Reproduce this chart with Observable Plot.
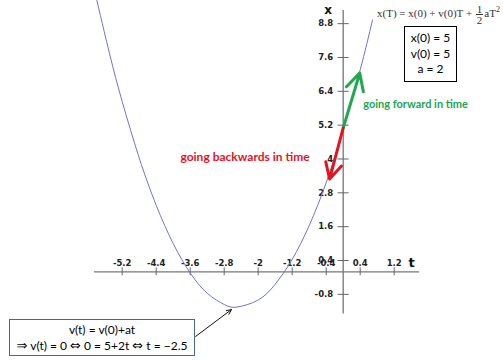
<!DOCTYPE html>
<html>
<head>
<meta charset="utf-8">
<script src="https://cdn.jsdelivr.net/npm/d3@7"></script>
<script src="https://cdn.jsdelivr.net/npm/@observablehq/plot@0.6"></script>
<style>
  html, body { margin: 0; padding: 0; background: #fff; }
  #wrap { position: relative; width: 503px; height: 363px; overflow: hidden; background: #fff; }
  #wrap svg { position: absolute; left: 0; top: 0; }
  .formula { position: absolute; left: 377px; top: 4px; font: 11px "Liberation Serif", serif; color: #333; white-space: nowrap; }
  .frac { display: inline-block; vertical-align: middle; text-align: center; line-height: 10px; margin: 0 1px; }
  .frac span { display: block; }
  .frac .num { border-bottom: 1px solid #333; padding: 0 1px; }
  .params { position: absolute; left: 404px; top: 26px; width: 51px; height: 51px; border: 1px solid #000; font: 12px Lato, sans-serif; color: #000; text-align: center; line-height: 15.5px; padding-top: 3px; box-sizing: content-box; }
  .note { position: absolute; left: 9px; top: 319px; width: 184px; height: 33px; border: 1px solid #46679a; font: 12px Lato, sans-serif; color: #000; text-align: center; line-height: 16px; padding-top: 2px; white-space: nowrap; }
  .sym { font-family: "DejaVu Sans", sans-serif; font-size: 13px; line-height: 12px; }
</style>
</head>
<body>
<div id="wrap">
  <div class="formula">x(T) = x(0) + v(0)T + <span class="frac"><span class="num">1</span><span>2</span></span>aT<sup style="font-size:8px">2</sup></div>
  <div class="params">x(0) = 5<br>v(0) = 5<br>a = 2</div>
  <div class="note">v(t) = v(0)+at<br><span class="sym">⇒</span> v(t) = 0 <span class="sym">⇔</span> 0 = 5+2t <span class="sym">⇔</span> t = −2.5</div>
</div>
<script>
// Curve points (t, x)
const curveT = [-5.85, -5.5, -5.2, -4.8, -4.4, -4.0, -3.6, -3.2, -2.8, -2.5, -2.0, -1.6, -1.2, -0.8, -0.4, 0, 0.4, 0.69];
const curveX = [9.97, 7.75, 6.04, 4.04, 2.36, 1.0, -0.04, -0.76, -1.16, -1.25, -1.0, -0.44, 0.44, 1.64, 3.16, 5.05, 7.16, 8.93];

// Axis ticks
const xTicks = [-5.2, -4.4, -3.6, -2.8, -2, -1.2, -0.4, 0.4, 1.2];
const yTicks = [-0.8, 0.4, 1.6, 2.8, 4, 5.2, 6.4, 7.6, 8.8];

// Arrows (t, x)
const arrowStart = {t: 0, x: 5.1};
const forwardEnd = {t: 0.39, x: 7.05};
const backwardEnd = {t: -0.32, x: 3.29};
const noteArrow = {t1: -3.47, x1: -2.29, t2: -2.63, x2: -1.34};

const curve = curveT.map((t, i) => ({t, x: curveX[i]}));

const tickFont = {fontFamily: "DejaVu Sans", fontWeight: "bold", fontSize: 8.5, fill: "#222"};

const plot = Plot.plot({
  width: 503,
  height: 363,
  margin: 0,
  style: {background: "transparent", overflow: "visible"},
  x: {domain: [-8.0635, 3.7718], axis: null},
  y: {domain: [-3.2518, 9.6206], axis: null},
  marks: [
    // axes lines
    Plot.ruleY([0], {x1: -5.85, x2: 1.8, stroke: "#777", strokeWidth: 1.3}),
    Plot.ruleX([0], {y1: -1.5, y2: 9.27, stroke: "#777", strokeWidth: 1.3}),
    // ticks
    Plot.ruleX(xTicks, {x: d => d, y1: -0.14, y2: 0.14, stroke: "#666", strokeWidth: 1}),
    Plot.ruleY(yTicks, {y: d => d, x1: -0.12, x2: 0.14, stroke: "#666", strokeWidth: 1}),
    // tick labels
    Plot.text(xTicks, {x: d => d, y: 0, dy: -9, text: d => String(d), ...tickFont}),
    Plot.text(yTicks, {x: 0, y: d => d, dx: -10, textAnchor: "end", text: d => String(d), ...tickFont}),
    // axis names
    Plot.text(["x"], {x: 0, y: 9.27, dx: -15, dy: 0, text: d => d, fontFamily: "DejaVu Sans", fontWeight: "bold", fontSize: 12, fill: "#111"}),
    Plot.text(["t"], {x: 1.8, y: 0, dx: -8, dy: -9, text: d => d, fontFamily: "DejaVu Sans", fontWeight: "bold", fontSize: 13, fill: "#111"}),
    // parabola
    Plot.line(curve, {x: "t", y: "x", curve: "natural", stroke: "#7474c4", strokeWidth: 1}),
    // arrows
    Plot.arrow([0], {x1: arrowStart.t, y1: arrowStart.x, x2: forwardEnd.t, y2: forwardEnd.x, stroke: "#22a650", strokeWidth: 3, headLength: 11, headAngle: 55}),
    Plot.arrow([0], {x1: arrowStart.t, y1: arrowStart.x, x2: backwardEnd.t, y2: backwardEnd.x, stroke: "#e5141e", strokeWidth: 3, headLength: 11, headAngle: 55}),
    Plot.arrow([0], {x1: noteArrow.t1, y1: noteArrow.x1, x2: noteArrow.t2, y2: noteArrow.x2, stroke: "#111", strokeWidth: 1, headLength: 8, headAngle: 50}),
    // labels
    Plot.text(["going forward in time"], {x: 0.47, y: 5.93, text: d => d, textAnchor: "start", fontFamily: "Lato", fontWeight: "bold", fontSize: 11, fill: "#22a650"}),
    Plot.text(["going backwards in time"], {x: -0.79, y: 4.05, text: d => d, textAnchor: "end", fontFamily: "Lato", fontWeight: "bold", fontSize: 12, fill: "#e5141e"})
  ]
});
document.getElementById("wrap").prepend(plot);
</script>
</body>
</html>
